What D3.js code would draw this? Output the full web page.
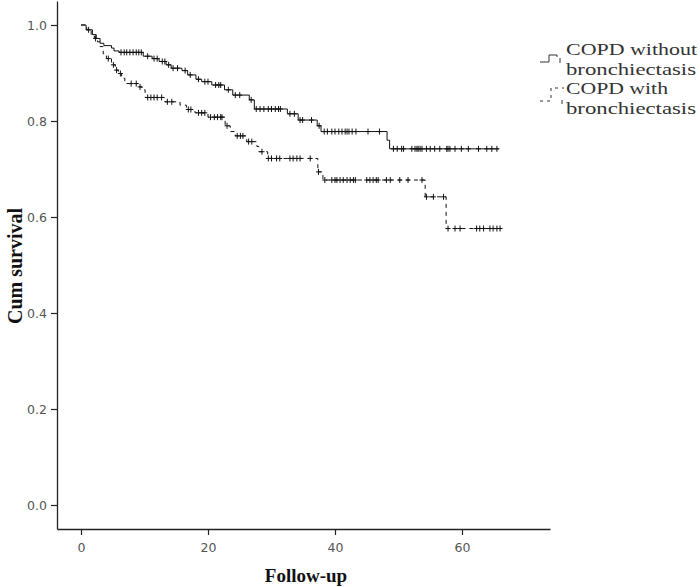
<!DOCTYPE html>
<html>
<head>
<meta charset="utf-8">
<script src="https://cdn.jsdelivr.net/npm/d3@7"></script>
<style>
  html, body { margin: 0; padding: 0; background: #fff; }
  svg { display: block; }
</style>
</head>
<body>
<svg id="chart" width="700" height="587"></svg>
<script>
// ---------- DATA ----------
const seriesNames = ["COPD without bronchiectasis", "COPD with bronchiectasis"];

// COPD without bronchiectasis: step times and survival after each step
const withoutTimes = [0, 0.8, 1.8, 2.4, 3.0, 3.6, 4.8, 5.2, 6.0, 9.8, 11.2, 12.3, 13.4, 14.2, 15.9, 16.8, 18.1, 19.0, 20.6, 22.6, 23.9, 26.5, 27.3, 32.5, 34.2, 37.2, 37.8, 48.2, 48.6, 65.8];
const withoutSurv  = [1.0, 0.99, 0.98, 0.972, 0.962, 0.957, 0.952, 0.946, 0.943, 0.935, 0.930, 0.924, 0.917, 0.910, 0.905, 0.896, 0.887, 0.882, 0.875, 0.865, 0.854, 0.844, 0.825, 0.815, 0.802, 0.79, 0.778, 0.76, 0.742, 0.742];
const withoutCensored = [6.3, 6.8, 7.2, 7.7, 8.2, 8.7, 9.1, 9.5, 10.5, 11.5, 12.0, 12.8, 13.2, 13.8, 14.5, 15.2, 16.4, 17.2, 18.5, 19.5, 20.0, 21.2, 21.7, 22.0, 23.2, 24.3, 25.0, 26.8, 27.6, 28.2, 28.8, 29.5, 30.0, 30.6, 31.1, 31.4, 32.9, 33.6, 34.5, 34.9, 36.3, 37.5, 38.3, 38.8, 39.5, 40.0, 40.6, 41.1, 41.6, 41.9, 42.2, 42.7, 43.3, 45.2, 47.0, 49.2, 49.8, 50.5, 50.8, 52.1, 52.6, 52.9, 53.1, 53.4, 53.7, 54.4, 55.0, 55.7, 56.5, 57.6, 57.8, 58.1, 58.9, 59.9, 61.0, 62.6, 63.9, 64.7, 65.5];

// COPD with bronchiectasis
const withTimes = [0, 0.9, 1.6, 2.1, 2.6, 3.0, 3.5, 4.0, 4.8, 5.4, 5.9, 6.4, 6.9, 9.0, 9.6, 10.1, 13.2, 15.6, 16.6, 17.95, 20.0, 22.7, 23.5, 24.3, 26.1, 27.7, 28.0, 29.4, 37.3, 38.1, 54.2, 57.5, 66.1];
const withSurv  = [1.0, 0.99, 0.98, 0.972, 0.965, 0.955, 0.94, 0.93, 0.917, 0.906, 0.899, 0.889, 0.878, 0.871, 0.865, 0.849, 0.84, 0.833, 0.824, 0.817, 0.808, 0.79, 0.778, 0.769, 0.757, 0.747, 0.736, 0.722, 0.694, 0.677, 0.642, 0.576, 0.576];
const withCensored = [1.2, 2.3, 4.3, 5.1, 5.6, 6.2, 7.9, 8.7, 9.3, 10.5, 11.0, 11.5, 12.0, 12.7, 13.6, 14.3, 16.9, 17.3, 18.5, 19.0, 19.5, 20.4, 21.0, 21.5, 22.0, 22.2, 23.0, 24.6, 25.1, 25.5, 26.4, 26.9, 28.5, 29.5, 30.0, 30.8, 31.3, 32.9, 33.4, 34.0, 34.5, 36.1, 37.4, 38.4, 39.5, 40.0, 40.3, 40.8, 41.3, 41.9, 42.4, 42.9, 43.2, 45.0, 45.5, 46.0, 46.5, 46.8, 48.1, 48.7, 50.2, 51.5, 53.7, 54.4, 55.5, 57.1, 57.8, 58.9, 59.7, 62.3, 62.8, 63.4, 64.4, 64.9, 65.5, 66.0];

const xTicks = [0, 20, 40, 60];
const yTicks = [0.0, 0.2, 0.4, 0.6, 0.8, 1.0];
const xTitle = "Follow-up";
const yTitle = "Cum survival";
const legendText = [["COPD without", "bronchiectasis"], ["COPD with", "bronchiectasis"]];

// ---------- CHART ----------
const svg = d3.select("#chart");
const x = d3.scaleLinear().domain([-3.78, 73.86]).range([57, 550]);
const y = d3.scaleLinear().domain([-0.05, 1.05]).range([529, 1]);

const tickFont = "'DejaVu Sans', sans-serif";
const serif = "'Liberation Serif', 'Times New Roman', serif";

// axes
const yAxis = d3.axisLeft(y).tickValues(yTicks).tickFormat(d3.format(".1f")).tickSize(6).tickPadding(4).tickSizeOuter(0);
const gy = svg.append("g").attr("transform", "translate(57,0)").call(yAxis);
const xAxis = d3.axisBottom(x).tickValues(xTicks).tickFormat(d3.format("d")).tickSize(6).tickPadding(8).tickSizeOuter(0);
const gx = svg.append("g").attr("transform", "translate(0,529)").call(xAxis);
[gx, gy].forEach(g => {
  g.select(".domain").attr("stroke", "#222").attr("stroke-width", 1.3);
  g.selectAll(".tick line").attr("stroke", "#222").attr("stroke-width", 1.2);
  g.selectAll(".tick text").attr("fill", "#555").style("font-family", tickFont).style("font-size", "12.5px");
});

// curves
const line = d3.line().x(d => x(d[0])).y(d => y(d[1])).curve(d3.curveStepAfter);
function survAt(times, surv, t) {
  const i = d3.bisectRight(times, t) - 1;
  return surv[Math.max(0, i)];
}
function drawCurve(times, surv, cens, dash) {
  const pts = times.map((t, i) => [t, surv[i]]);
  svg.append("path").datum(pts).attr("d", line)
    .attr("fill", "none").attr("stroke", "#111").attr("stroke-width", 1)
    .attr("stroke-dasharray", dash);
  svg.append("g").selectAll("line").data(cens).join("line")
    .attr("x1", d => x(d)).attr("x2", d => x(d))
    .attr("y1", d => y(survAt(times, surv, d)) - 3)
    .attr("y2", d => y(survAt(times, surv, d)) + 3)
    .attr("stroke", "#111").attr("stroke-width", 1);
  svg.append("g").selectAll("line").data(cens).join("line")
    .attr("x1", d => x(d) - 2.5).attr("x2", d => x(d) + 2.5)
    .attr("y1", d => y(survAt(times, surv, d)))
    .attr("y2", d => y(survAt(times, surv, d)))
    .attr("stroke", "#111").attr("stroke-width", 1);
}
drawCurve(withoutTimes, withoutSurv, withoutCensored, null);
drawCurve(withTimes, withSurv, withCensored, "4,4");

// axis titles
svg.append("text").attr("x", 306).attr("y", 582).attr("text-anchor", "middle")
  .style("font-family", serif).style("font-weight", "bold").style("font-size", "19px")
  .attr("fill", "#111").text(xTitle);
svg.append("text").attr("transform", "translate(22,266) rotate(-90)").attr("text-anchor", "middle")
  .style("font-family", serif).style("font-weight", "bold").style("font-size", "20px")
  .attr("fill", "#111").text(yTitle);

// legend
const lg = svg.append("g");
lg.append("path").attr("d", "M540,62H549V55H557V57").attr("fill", "none").attr("stroke", "#333").attr("stroke-width", 1);
lg.append("line").attr("x1", 560).attr("x2", 560).attr("y1", 58).attr("y2", 63).attr("stroke", "#333");
lg.append("path").attr("d", "M540,101H551V88H564").attr("fill", "none").attr("stroke", "#333").attr("stroke-width", 1).attr("stroke-dasharray", "3,4");
lg.append("line").attr("x1", 562).attr("x2", 562).attr("y1", 100).attr("y2", 104).attr("stroke", "#333");
const legendLines = [
  [legendText[0][0], 55, 131],
  [legendText[0][1], 74.5, 130],
  [legendText[1][0], 94, 102],
  [legendText[1][1], 113.5, 130]
];
lg.selectAll("text").data(legendLines).join("text")
  .attr("x", 566).attr("y", d => d[1])
  .attr("textLength", d => d[2]).attr("lengthAdjust", "spacingAndGlyphs")
  .style("font-family", serif).style("font-size", "17px").attr("fill", "#333")
  .text(d => d[0]);
</script>
</body>
</html>
